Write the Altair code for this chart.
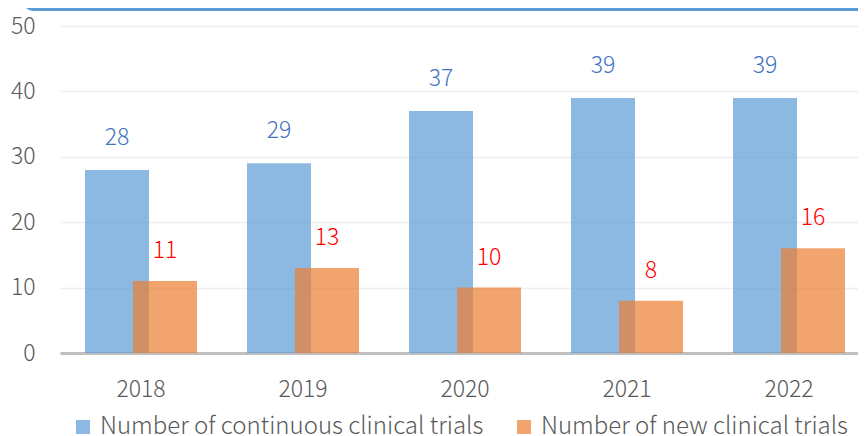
import altair as alt
import pandas as pd

years = ["2018", "2019", "2020", "2021", "2022"]
continuous = [28, 29, 37, 39, 39]
new = [11, 13, 10, 8, 16]
series_names = ["Number of continuous clinical trials", "Number of new clinical trials"]

rows = []
for y, c, n in zip(years, continuous, new):
    rows.append({"year": y, "series": series_names[0], "value": c})
    rows.append({"year": y, "series": series_names[1], "value": n})
df = pd.DataFrame(rows)

FONT = "Noto Sans CJK JP"
LW = 300
BLUE = "#5B9BD5"
ORANGE = "#ED7D31"

x = alt.X("year:N", title=None, sort=years,
          scale=alt.Scale(paddingInner=0, paddingOuter=0),
          axis=alt.Axis(labelAngle=0, labelFontSize=23, labelColor="#595959",
                        labelFont=FONT, labelFontWeight=LW, labelPadding=25, ticks=False,
                        domainColor="#BFBFBF", domainWidth=3, grid=False))
y = alt.Y("value:Q", title=None,
          scale=alt.Scale(domain=[0, 50], nice=False),
          axis=alt.Axis(values=[0, 10, 20, 30, 40, 50], labelFontSize=23,
                        labelColor="#595959", labelFont=FONT, labelFontWeight=LW,
                        labelPadding=25, ticks=False, domain=False,
                        gridColor="#EEEEEE", gridWidth=1.5))
color = alt.Color("series:N", sort=series_names,
                  scale=alt.Scale(domain=series_names, range=[BLUE, ORANGE]),
                  legend=alt.Legend(title=None, orient="none", direction="horizontal",
                                    legendX=11, legendY=389, symbolType="square",
                                    symbolSize=196, symbolOpacity=0.7,
                                    symbolStrokeWidth=0, labelLimit=0,
                                    labelFontSize=24, labelFont=FONT,
                                    labelFontWeight=LW,
                                    labelColor="#595959", labelOffset=5,
                                    columnPadding=28, padding=0))

base = alt.Chart(df)

blue_bars = base.transform_filter(alt.datum.series == series_names[0]).mark_bar(
    width=64, xOffset=-24, opacity=0.7).encode(x=x, y=y, color=color)
orange_bars = base.transform_filter(alt.datum.series == series_names[1]).mark_bar(
    width=64, xOffset=24, opacity=0.7).encode(x=x, y=y, color=color)

blue_text = base.transform_filter(alt.datum.series == series_names[0]).mark_text(
    xOffset=-24, dy=-25, baseline="alphabetic", fontSize=23, font=FONT,
    fontWeight=LW, color="#4472C4").encode(x=x, y=y, text="value:Q")
orange_text = base.transform_filter(alt.datum.series == series_names[1]).mark_text(
    xOffset=24, dy=-23, baseline="alphabetic", fontSize=23, font=FONT,
    fontWeight=LW, color="#FF0000").encode(x=x, y=y, text="value:Q")

header = alt.Chart(alt.Data(values=[{"k": 1}])).mark_rect(
    color="#5B9BD5", cornerRadiusBottomLeft=12).encode(
    x=alt.value(-38), x2=alt.value(830), y=alt.value(-40), y2=alt.value(-15))

chart = alt.layer(header, blue_bars, orange_bars, blue_text, orange_text).properties(
    width=810, height=327,
    autosize=alt.AutoSizeParams(type="none"),
    padding={"left": 52, "top": 18, "right": -12, "bottom": 83},
).configure(background="white").configure_view(stroke=None)

chart.save("out.html", embed_options={"renderer": "svg", "actions": False})
